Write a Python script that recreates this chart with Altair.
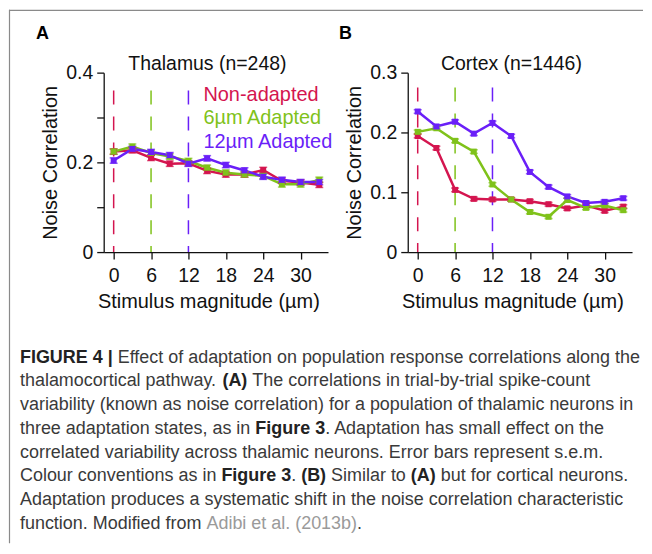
import altair as alt
import pandas as pd

# ---------------- data ----------------
stim = [0, 3, 6, 9, 12, 15, 18, 21, 24, 27, 30, 33]
states = ["Non-adapted", "6µm Adapted", "12µm Adapted"]
colors = ["#d4154f", "#7fc21a", "#6a1ff8"]
adapt_at = [0, 6, 12]

thal_non = [0.224, 0.227, 0.210, 0.197, 0.198, 0.181, 0.173, 0.173, 0.183, 0.159, 0.155, 0.150]
thal_6 = [0.224, 0.235, 0.221, 0.213, 0.203, 0.188, 0.177, 0.173, 0.170, 0.151, 0.151, 0.161]
thal_12 = [0.204, 0.230, 0.223, 0.216, 0.197, 0.209, 0.194, 0.182, 0.168, 0.161, 0.156, 0.156]
thal_sem = 0.006

ctx_non = [0.194, 0.174, 0.104, 0.089, 0.088, 0.088, 0.085, 0.080, 0.073, 0.078, 0.069, 0.076]
ctx_6 = [0.201, 0.207, 0.186, 0.168, 0.113, 0.088, 0.067, 0.059, 0.087, 0.074, 0.078, 0.070]
ctx_12 = [0.235, 0.210, 0.218, 0.198, 0.216, 0.194, 0.134, 0.109, 0.093, 0.082, 0.084, 0.090]
ctx_sem = 0.003

caption_lines = [
    [("FIGURE 4 |", "b"), ("Effect of adaptation on population response correlations along the", "r")],
    [("thalamocortical pathway.", "r"), ("(A)", "b"), ("The correlations in trial-by-trial spike-count", "r")],
    [("variability (known as noise correlation) for a population of thalamic neurons in", "r")],
    [("three adaptation states, as in", "r"), ("Figure 3", "b"), (". Adaptation has small effect on the", "r", 0)],
    [("correlated variability across thalamic neurons. Error bars represent s.e.m.", "r")],
    [("Colour conventions as in", "r"), ("Figure 3", "b"), (".", "r", 0), ("(B)", "b"), ("Similar to", "r"),
     ("(A)", "b"), ("but for cortical neurons.", "r")],
    [("Adaptation produces a systematic shift in the noise correlation characteristic", "r")],
    [("function. Modified from", "r"), ("Adibi et al. (2013b)", "g"), (".", "r", 0)],
]

FONT = "Liberation Sans"

# Arial / Helvetica advance widths (1/1000 em) used to place the mixed-style caption pieces
REGW = {" ": 278, "(": 333, ")": 333, ",": 278, "-": 333, ".": 278, "|": 260, "=": 584}
REGW.update({d: 556 for d in "0123456789"})
REGW.update(dict(zip("ABCDEFGHIJKLMNOPQRSTUVWXYZ",
                     [667, 667, 722, 722, 667, 611, 778, 722, 278, 500, 667, 556, 833, 722, 778, 667, 778,
                      722, 667, 611, 722, 667, 944, 667, 667, 611])))
REGW.update(dict(zip("abcdefghijklmnopqrstuvwxyz",
                     [556, 556, 500, 556, 556, 278, 556, 556, 222, 222, 500, 222, 833, 556, 556, 556, 556,
                      333, 500, 278, 556, 500, 722, 500, 500, 500])))
BOLDW = dict(REGW)
BOLDW.update({"|": 280, "A": 722, "B": 722, "a": 556, "e": 556, "g": 611, "i": 278, "r": 389, "u": 611})


def text_w(s, bold, size):
    tab = BOLDW if bold else REGW
    return sum(tab.get(ch, 556) for ch in s) * size / 1000.0


def long_df(series, sem):
    rows = []
    for st, vals in zip(states, series):
        for s, v in zip(stim, vals):
            rows.append({"stim": s, "value": v, "state": st, "lo": v - sem, "hi": v + sem})
    return pd.DataFrame(rows)


def panel(series, sem, ymax, step, label_mod, title, letter, dash_top, legend=False):
    df = long_df(series, sem)
    n = int(round(ymax / step))
    yticks = [round(i * step, 3) for i in range(n + 1)]
    xs = alt.Scale(domain=[-1.6, 34.4], nice=False, zero=False)
    ys = alt.Scale(domain=[0, ymax], nice=False, zero=True)
    cs = alt.Scale(domain=states, range=colors)
    xaxis = alt.Axis(values=[0, 6, 12, 18, 24, 30], title="Stimulus magnitude (µm)",
                     grid=False, tickSize=7, labelPadding=8, titleX=105, titleY=56,
                     titleBaseline="alphabetic")
    yaxis = alt.Axis(values=yticks, title="Noise Correlation", grid=False, tickSize=7,
                     labelPadding=4,
                     labelExpr=f"round(datum.value*100) % {label_mod} == 0 ? format(datum.value, '~g') : ''",
                     titleX=-47, titleY=90, titleBaseline="alphabetic", titleAngle=-90)
    base = alt.Chart(df)
    x = alt.X("stim:Q", scale=xs, axis=xaxis)
    y = alt.Y("value:Q", scale=ys, axis=yaxis)
    col = alt.Color("state:N", scale=cs, legend=None)

    dash_df = pd.DataFrame({"stim": adapt_at, "state": states, "top": [dash_top] * 3})
    dashed = alt.Chart(dash_df).mark_rule(strokeWidth=1.5, strokeDash=[14, 12]).encode(
        x=alt.X("stim:Q", scale=xs), y=alt.Y("top:Q", scale=ys), y2=alt.datum(0), color=col)
    lines = base.mark_line(strokeWidth=2.5).encode(x=x, y=y, color=col, detail="state:N")
    err = base.mark_rule(strokeWidth=1.5).encode(x="stim:Q", y="lo:Q", y2="hi:Q", color=col)
    cap_lo = base.mark_tick(orient="horizontal", size=8, thickness=1.5).encode(x="stim:Q", y="lo:Q", color=col)
    cap_hi = base.mark_tick(orient="horizontal", size=8, thickness=1.5).encode(x="stim:Q", y="hi:Q", color=col)
    pts = base.mark_square(size=36, opacity=1).encode(x="stim:Q", y="value:Q", color=col)

    one = alt.Data(values=[{"k": 1}])
    ttl = alt.Chart(one).mark_text(text=title, fontSize=19.5, font=FONT, color="#111",
                                   align="center", baseline="alphabetic").encode(
        x=alt.value(104), y=alt.value(-3))
    let = alt.Chart(one).mark_text(text=letter, fontSize=18, font=FONT, fontWeight="bold",
                                   color="#000", align="left", baseline="alphabetic").encode(
        x=alt.value(-68 if letter == "A" else -69), y=alt.value(-34))
    layers = [dashed, lines, err, cap_lo, cap_hi, pts, ttl, let]
    if legend:
        for i, (st, c) in enumerate(zip(states, colors)):
            layers.append(alt.Chart(one).mark_text(text=st, fontSize=20, font=FONT, color=c,
                                                   align="left", baseline="alphabetic").encode(
                x=alt.value(100), y=alt.value(28 + 24 * i)))
    return alt.layer(*layers).properties(width=225, height=180)


A = panel([thal_non, thal_6, thal_12], thal_sem, 0.4, 0.1, 20, "Thalamus (n=248)", "A", 0.36, legend=True)
B = panel([ctx_non, ctx_6, ctx_12], ctx_sem, 0.3, 0.05, 10, "Cortex (n=1446)", "B", 0.275)

# ---------------- caption & frame (drawn in panel A's coordinates) ----------------
one = alt.Data(values=[{"k": 1}])
OX, OY = 103, 71  # page position of panel A's plot origin (layout only)
CAP_SIZE = 18
CAP_X0 = 19
CAP_Y0 = 362
CAP_DY = 23.8
cap_layers = []
for li, segs in enumerate(caption_lines):
    xp = CAP_X0
    yb = CAP_Y0 + CAP_DY * li
    for j, seg in enumerate(segs):
        txt, sty = seg[0], seg[1]
        gap = seg[2] if len(seg) > 2 else 1
        if j > 0 and gap:
            xp += text_w(" ", False, CAP_SIZE)
        bold = sty == "b"
        m = alt.Chart(one).mark_text(text=txt, font=FONT, fontWeight="bold" if bold else "normal",
                                     fontSize=CAP_SIZE,
                                     color="#222" if bold else ("#9a9a9a" if sty == "g" else "#3a3a3a"),
                                     align="left", baseline="alphabetic")
        cap_layers.append(m.encode(x=alt.value(xp - OX), y=alt.value(yb - OY)))
        xp += text_w(txt, bold, CAP_SIZE)

frame_v = alt.Chart(one).mark_rule(color="#8a8a8a", strokeWidth=1.2).encode(
    x=alt.value(8.5 - OX), y=alt.value(8 - OY), y2=alt.value(543 - OY))
frame_h = alt.Chart(one).mark_rule(color="#8a8a8a", strokeWidth=1.2).encode(
    y=alt.value(8.5 - OY), x=alt.value(8 - OX), x2=alt.value(644 - OX))

A_full = alt.layer(A, frame_v, frame_h, *cap_layers)

chart = alt.hconcat(A_full, B, spacing=80, bounds="flush").properties(padding=0).configure_view(
    stroke=None).configure_axis(
    domainColor="#111", tickColor="#111", domainWidth=1.3, tickWidth=1.3,
    labelFont=FONT, titleFont=FONT, labelFontSize=19.5, titleFontSize=20,
    labelColor="#111", titleColor="#111", titleFontWeight="normal")

chart.save("out.html", embed_options={"renderer": "svg", "actions": False})
